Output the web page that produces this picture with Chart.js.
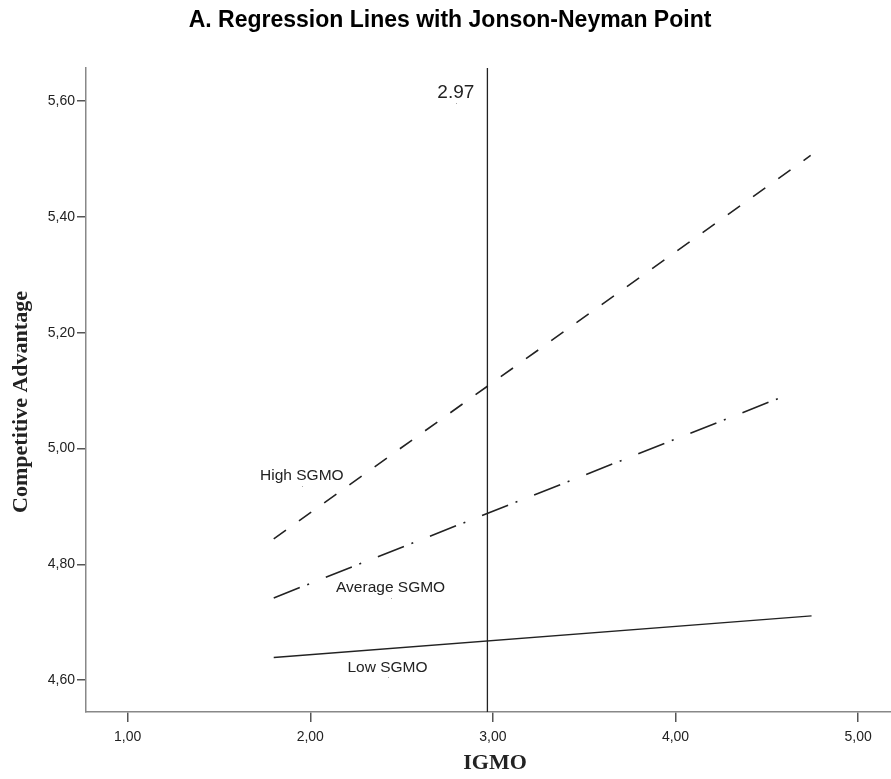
<!DOCTYPE html>
<html>
<head>
<meta charset="utf-8">
<title>Regression Lines with Jonson-Neyman Point</title>
<script src="https://cdn.jsdelivr.net/npm/chart.js@4"></script>
<style>
    html, body { margin: 0; padding: 0; background: #fff; }
    #wrap { width: 891px; height: 779px; }
</style>
</head>
<body>
<div id="wrap"><canvas id="jnChart" width="891" height="779"></canvas></div>
<script>
// Data
const xTicks = [1, 2, 3, 4, 5];
const yTicks = [4.6, 4.8, 5.0, 5.2, 5.4, 5.6];
const xRange = [0.772, 5.18];
const yRange = [4.545, 5.657];

const highIgmo = [1.80, 4.74];
const highSgmo = [4.844, 5.506];
const avgIgmo = [1.80, 4.64];
const avgSgmo = [4.742, 5.096];
const lowIgmo = [1.80, 4.745];
const lowSgmo = [4.639, 4.711];

const jnPoint = 2.97;

const labelNames = ['High SGMO', 'Average SGMO', 'Low SGMO', '2.97'];
const labelX = [1.954, 2.44, 2.423, 2.797];
const labelY = [4.936, 4.742, 4.605, 5.596];

// helpers
function toPoints(xs, ys) {
    return xs.map((x, i) => ({ x: x, y: ys[i] }));
}

function fmtComma(v) {
    return Number(v).toFixed(2).replace('.', ',');
}

// Draws the title, axis titles and line annotations
const annotationPlugin = {
    id: 'annotations',
    afterDraw(chart) {
        const ctx = chart.ctx;
        const xs = chart.scales.x;
        const ys = chart.scales.y;
        ctx.save();

        // main title
        ctx.fillStyle = '#000';
        ctx.font = 'bold 23px "Liberation Sans", Arial, sans-serif';
        ctx.textAlign = 'center';
        ctx.textBaseline = 'middle';
        ctx.fillText('A. Regression Lines with Jonson-Neyman Point', 450, 21);

        // axis titles
        ctx.fillStyle = '#222';
        ctx.font = 'bold 22px "Liberation Serif", "Times New Roman", serif';
        ctx.fillText('IGMO', 495, 763);

        ctx.save();
        ctx.translate(21, 402);
        ctx.rotate(-Math.PI / 2);
        ctx.fillText('Competitive Advantage', 0, 0);
        ctx.restore();

        // line labels, text sits just above its anchor dot
        labelNames.forEach((name, i) => {
            const px = xs.getPixelForValue(labelX[i]);
            const py = ys.getPixelForValue(labelY[i]);
            const isValue = name === '2.97';
            ctx.font = (isValue ? '19px' : '15.5px') + ' "Liberation Sans", Arial, sans-serif';
            ctx.fillStyle = '#222';
            ctx.textAlign = 'center';
            ctx.textBaseline = 'middle';
            ctx.fillText(name, px, py - (isValue ? 11 : 10));
            ctx.fillStyle = '#aaa';
            ctx.fillRect(Math.round(px), Math.round(py), 1, 1);
        });

        ctx.restore();
    }
};

const ctx = document.getElementById('jnChart');

new Chart(ctx, {
    type: 'scatter',
    data: {
        datasets: [
            {
                label: 'High SGMO',
                data: toPoints(highIgmo, highSgmo),
                showLine: true,
                borderColor: '#222',
                borderWidth: 1.6,
                borderDash: [15, 16],
                pointRadius: 0
            },
            {
                label: 'Average SGMO',
                data: toPoints(avgIgmo, avgSgmo),
                showLine: true,
                borderColor: '#222',
                borderWidth: 1.6,
                borderDash: [28, 8, 2, 18],
                pointRadius: 0
            },
            {
                label: 'Low SGMO',
                data: toPoints(lowIgmo, lowSgmo),
                showLine: true,
                borderColor: '#222',
                borderWidth: 1.4,
                pointRadius: 0
            },
            {
                label: 'Johnson-Neyman point',
                data: toPoints([jnPoint, jnPoint], yRange),
                showLine: true,
                borderColor: '#222',
                borderWidth: 1.3,
                pointRadius: 0
            }
        ]
    },
    options: {
        responsive: false,
        devicePixelRatio: 1,
        animation: false,
        layout: {
            padding: { top: 68, left: 0, right: 0, bottom: 0 }
        },
        plugins: {
            legend: { display: false },
            title: { display: false },
            tooltip: { enabled: false }
        },
        scales: {
            x: {
                type: 'linear',
                min: xRange[0],
                max: xRange[1],
                afterBuildTicks: (scale) => {
                    scale.ticks = xTicks.map(v => ({ value: v }));
                },
                afterFit: (scale) => {
                    scale.height = 67;
                },
                ticks: {
                    callback: (v) => fmtComma(v),
                    color: '#222',
                    font: { family: '"Liberation Sans", Arial, sans-serif', size: 14 },
                    padding: 7,
                    maxRotation: 0
                },
                grid: {
                    drawOnChartArea: false,
                    drawTicks: true,
                    tickLength: 10,
                    color: '#555',
                    lineWidth: 1.5
                },
                border: { display: true, color: '#888', width: 1.5 }
            },
            y: {
                type: 'linear',
                min: yRange[0],
                max: yRange[1],
                afterBuildTicks: (scale) => {
                    scale.ticks = yTicks.map(v => ({ value: v }));
                },
                afterFit: (scale) => {
                    scale.width = 86;
                },
                ticks: {
                    callback: (v) => fmtComma(v),
                    color: '#222',
                    font: { family: '"Liberation Sans", Arial, sans-serif', size: 14 },
                    padding: 2
                },
                grid: {
                    drawOnChartArea: false,
                    drawTicks: true,
                    tickLength: 9,
                    color: '#555',
                    lineWidth: 1.5
                },
                border: { display: true, color: '#888', width: 1.5 }
            }
        }
    },
    plugins: [annotationPlugin]
});
</script>
</body>
</html>
